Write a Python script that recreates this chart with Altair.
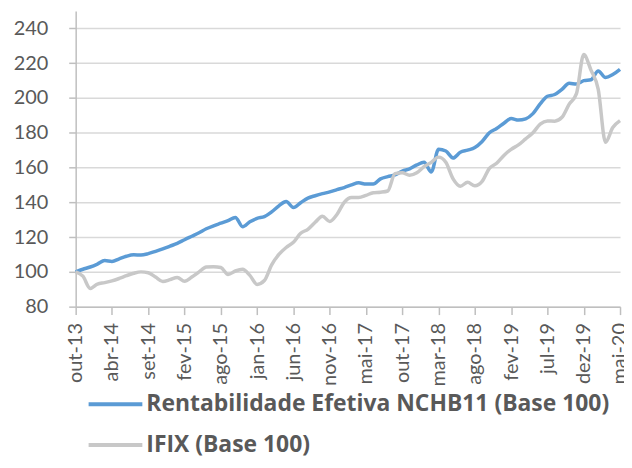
import altair as alt
import pandas as pd

tick_labels = ["out-13", "abr-14", "set-14", "fev-15", "ago-15", "jan-16", "jun-16", "nov-16",
               "mai-17", "out-17", "mar-18", "ago-18", "fev-19", "jul-19", "dez-19", "mai-20"]

periodo = list(range(76))

nchb11 = [100, 101.5, 102.8, 104.5, 106.5, 106, 107.5, 109, 109.8, 109.7,
          110.5, 111.8, 113.2, 114.8, 116.4, 118.5, 120.5, 122.5, 124.8, 126.5,
          128, 129.5, 131.3, 126, 128.8, 130.8, 131.8, 134.5, 138, 140.5,
          137, 139.8, 142.4, 143.8, 145, 146, 147.3, 148.5, 150, 151.2,
          150.5, 150.5, 153.5, 154.8, 155.8, 158, 159.2, 161.5, 163, 157.5,
          170.5, 169.5, 165.5, 168.8, 170, 171.5, 175, 180, 182.5, 185.5,
          188.2, 187.3, 188, 191, 196.6, 201, 202, 205, 208.5, 208,
          210, 210.5, 215.5, 211.8, 213.5, 216.5]

ifix = [100, 97.5, 90.5, 93, 93.8, 94.8, 96.2, 97.8, 99.2, 100,
        99.5, 97, 94.5, 95.5, 96.8, 94.6, 97, 100, 102.8, 103,
        102.5, 98.5, 100.5, 101.5, 98, 92.8, 95, 104, 110, 114,
        117, 122.2, 124.5, 128.5, 132, 129, 133, 140, 142.8, 142.8,
        144, 145.5, 145.8, 146.5, 156.5, 157, 155.6, 157, 160.5, 163,
        166, 163, 153.5, 149.3, 151.5, 149.5, 152, 159.5, 162.5, 167,
        170.5, 173, 176.5, 180, 185, 186.8, 186.7, 188.9, 196.5, 202.5,
        225, 216, 205, 174.6, 183, 187]

serie_nchb = "Rentabilidade Efetiva NCHB11 (Base 100)"
serie_ifix = "IFIX (Base 100)"
series_names = [serie_nchb, serie_ifix]
series_colors = ["#5b9bd5", "#c8c8c8"]

y_ticks = [80, 100, 120, 140, 160, 180, 200, 220, 240]

df = pd.DataFrame({
    "periodo": periodo + periodo,
    "valor": nchb11 + ifix,
    "serie": [serie_nchb] * len(nchb11) + [serie_ifix] * len(ifix),
})

label_expr = "[" + ",".join("'%s'" % t for t in tick_labels) + "][round(datum.value / 5)]"

FONT = "Lato"
LEGFONT = "Open Sans"
TXT = "#595959"
AXC = "#bfbfbf"

color = alt.Color(
    "serie:N",
    scale=alt.Scale(domain=series_names, range=series_colors),
    legend=alt.Legend(
        title=None, orient="none", legendX=11, legendY=366, direction="vertical",
        symbolType="stroke", symbolSize=2916, symbolStrokeWidth=4,
        labelFont=LEGFONT, labelFontSize=23, labelFontWeight="bold", labelColor=TXT,
        labelOffset=2, labelLimit=700, rowPadding=0, padding=0,
    ),
)

base = alt.Chart(df).mark_line(strokeWidth=3.5, interpolate="monotone").encode(
    x=alt.X("periodo:Q", scale=alt.Scale(domain=[0, 75], nice=False, zero=False),
            axis=alt.Axis(title=None, values=list(range(0, 76, 5)), labelExpr=label_expr,
                          labelAngle=-90, labelFont=FONT, labelFontSize=20, labelColor=TXT,
                          labelPadding=8, tickSize=8, tickColor=AXC, tickWidth=1.5,
                          domainColor=AXC, domainWidth=1.5, grid=False, labelFlush=False,
                          labelOverlap=False)),
    y=alt.Y("valor:Q", scale=alt.Scale(domain=[80, 250], nice=False, zero=False),
            axis=alt.Axis(title=None, values=y_ticks, labelFont=FONT, labelFontSize=20,
                          labelColor=TXT, labelPadding=21, tickSize=7, tickColor=AXC,
                          tickWidth=1.5, domainColor=AXC, domainWidth=1.5, grid=True,
                          gridColor="#d9d9d9", gridWidth=1.5, labelFlush=False)),
    color=color,
)

chart = alt.layer(
    base.transform_filter(alt.datum.serie == serie_nchb),
    base.transform_filter(alt.datum.serie == serie_ifix),
).properties(
    width=547, height=297,
    padding={"left": 68, "top": 2, "right": 4, "bottom": 151},
    autosize="none",
).configure_view(stroke=None)

chart.save("out.html", embed_options={"renderer": "svg", "actions": False})
